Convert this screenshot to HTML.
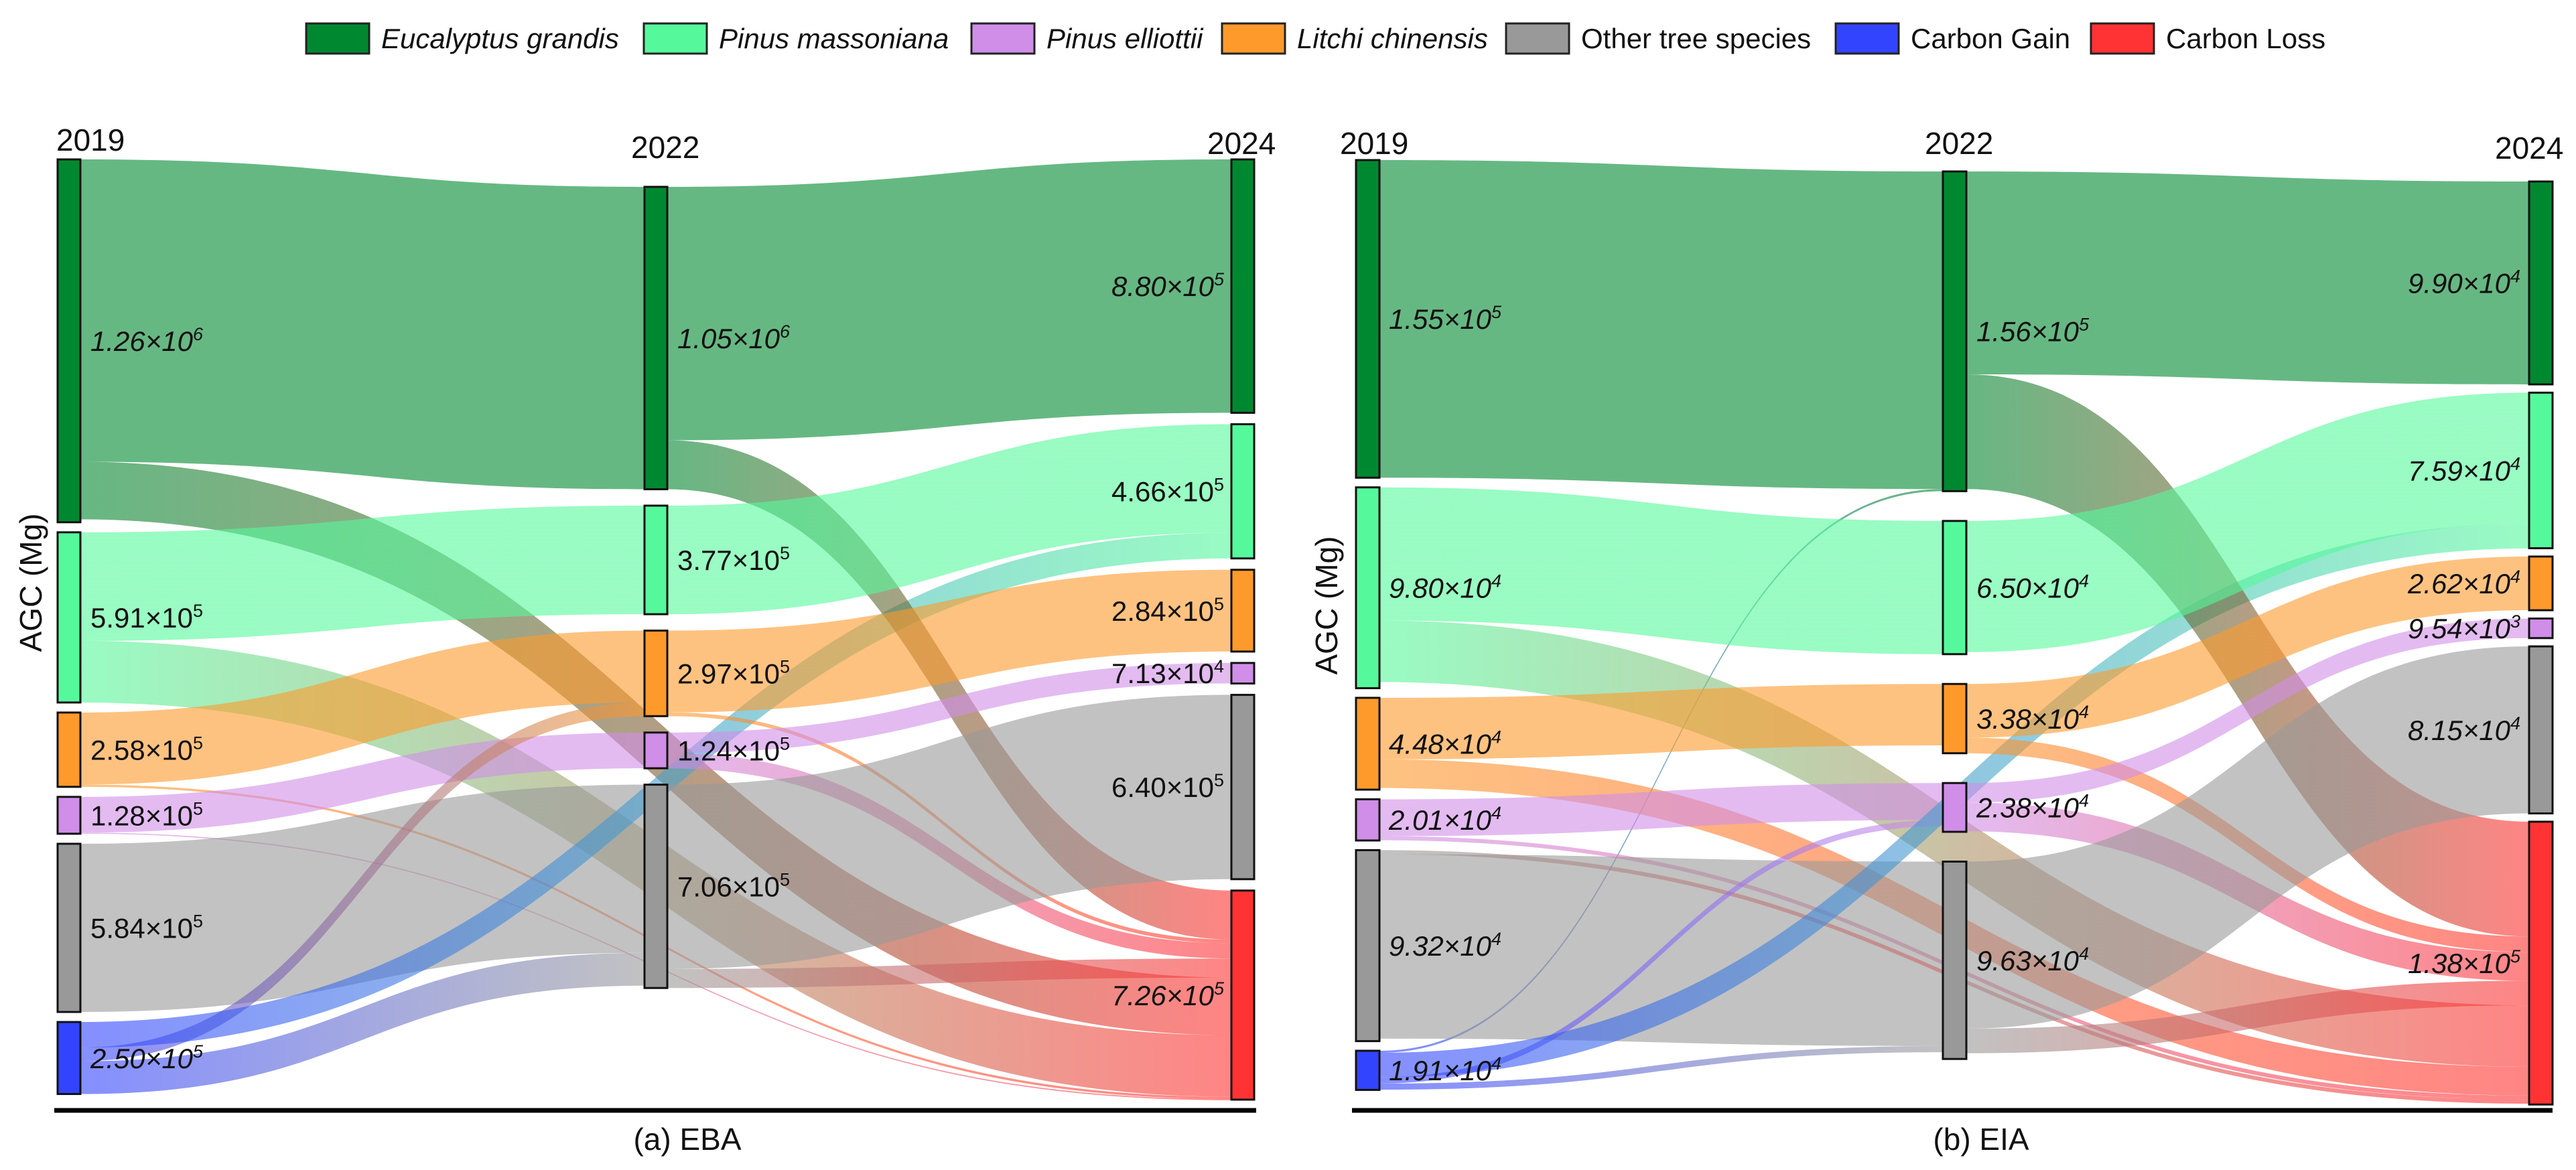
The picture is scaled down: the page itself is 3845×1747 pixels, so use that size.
<!DOCTYPE html>
<html><head><meta charset="utf-8"><style>
html,body{margin:0;padding:0;background:#fff;}
svg{display:block;font-family:"Liberation Sans",Arial,sans-serif;}
</style></head><body>
<svg id="chart" width="3845" height="1747" viewBox="0 0 3845 1747" xmlns="http://www.w3.org/2000/svg">
<defs id="defs"></defs>
<g id="legend"></g>
<g id="panelA"></g>
<g id="panelB"></g>
</svg>
<script>
// ---- data ----
const categories = ["Eucalyptus grandis","Pinus massoniana","Pinus elliottii","Litchi chinensis","Other tree species","Carbon Gain","Carbon Loss"];
const catKeys = ["Eg","PM","El","Li","Ot","Gain","Loss"];
const years = ["2019","2022","2024"];
const col2019 = ["Eg","PM","Li","El","Ot","Gain"];
const col2022 = ["Eg","PM","Li","El","Ot"];
const col2024 = ["Eg","PM","Li","El","Ot","Loss"];
const ebaNodes2019 = [1.26e6, 5.91e5, 2.58e5, 1.28e5, 5.84e5, 2.50e5];
const ebaNodes2022 = [1.05e6, 3.77e5, 2.97e5, 1.24e5, 7.06e5];
const ebaNodes2024 = [8.80e5, 4.66e5, 2.84e5, 7.13e4, 6.40e5, 7.26e5];
const eiaNodes2019 = [1.55e5, 9.80e4, 4.48e4, 2.01e4, 9.32e4, 1.91e4];
const eiaNodes2022 = [1.56e5, 6.50e4, 3.38e4, 2.38e4, 9.63e4];
const eiaNodes2024 = [9.90e4, 7.59e4, 2.62e4, 9.54e3, 8.15e4, 1.38e5];
// links: [sourceCol, sourceKey, targetCol, targetKey, value]
const ebaLinks = [
 [0,"Eg",1,"Eg",1.05e6],[0,"Eg",2,"Loss",2.0e5],
 [0,"PM",1,"PM",3.77e5],[0,"PM",2,"Loss",2.14e5],
 [0,"Li",1,"Li",2.5e5],[0,"Li",2,"Loss",8e3],
 [0,"El",1,"El",1.24e5],[0,"El",2,"Loss",4e3],
 [0,"Ot",1,"Ot",5.84e5],
 [0,"Gain",1,"Li",4.7e4],[0,"Gain",1,"Ot",1.14e5],[0,"Gain",2,"PM",8.9e4],
 [1,"Eg",2,"Eg",8.8e5],[1,"Eg",2,"Loss",1.7e5],
 [1,"PM",2,"PM",3.77e5],
 [1,"Li",2,"Li",2.84e5],[1,"Li",2,"Loss",1.3e4],
 [1,"El",2,"El",7.13e4],[1,"El",2,"Loss",5.3e4],
 [1,"Ot",2,"Ot",6.4e5],[1,"Ot",2,"Loss",6.6e4]
];
const eiaLinks = [
 [0,"Eg",1,"Eg",1.55e5],[0,"Gain",1,"Eg",1e3],
 [0,"PM",1,"PM",6.5e4],[0,"PM",2,"Loss",3.0e4],
 [0,"Li",1,"Li",3.0e4],[0,"Li",2,"Loss",1.4e4],
 [0,"El",1,"El",1.8e4],[0,"El",2,"Loss",2e3],
 [0,"Ot",1,"Ot",9.0e4],[0,"Ot",2,"Loss",2e3],
 [0,"Gain",1,"El",3e3],[0,"Gain",1,"Ot",3e3],[0,"Gain",2,"PM",1.2e4],
 [1,"Eg",2,"Eg",9.9e4],[1,"Eg",2,"Loss",5.6e4],
 [1,"PM",2,"PM",6.4e4],
 [1,"Li",2,"Li",2.62e4],[1,"Li",2,"Loss",7.6e3],
 [1,"El",2,"El",9.54e3],[1,"El",2,"Loss",1.4e4],
 [1,"Ot",2,"Ot",8.15e4],[1,"Ot",2,"Loss",1.2e4]
];
// ---- style ----
const colors = {Eg:"#008830",PM:"#55f99b",El:"#d08ee8",Li:"#fe9a2b",Ot:"#999999",Gain:"#3344ff",Loss:"#ff3333"};
const NS = "http://www.w3.org/2000/svg";
function mk(tag, attrs, parent){const e=document.createElementNS(NS,tag);for(const k in attrs)e.setAttribute(k,attrs[k]);if(parent)parent.appendChild(e);return e;}
const defs = document.getElementById('defs');
let gid = 0;

function fmt(v){
  const e = Math.floor(Math.log10(v)+1e-9);
  const m = (v/Math.pow(10,e)).toFixed(2);
  return [m, e];
}

function drawPanel(g, cfg){
  const cols=[col2019,col2022,col2024];
  const vals=cfg.nodes;
  const nodes=[{},{},{}];
  for(let c=0;c<3;c++){
    let y=cfg.tops[c];
    cols[c].forEach((k,i)=>{
      const h=vals[c][i]*cfg.k;
      nodes[c][k]={x:cfg.xs[c],y:y,h:h,v:vals[c][i],out:[],inn:[]};
      y+=h+cfg.gaps[c];
    });
  }
  const links=cfg.links.map(l=>({s:nodes[l[0]][l[1]],t:nodes[l[2]][l[3]],sk:l[1],tk:l[3],v:l[4]}));
  links.forEach(l=>{l.s.out.push(l);l.t.inn.push(l);});
  for(let c=0;c<3;c++)for(const k in nodes[c]){
    const n=nodes[c][k];
    n.out.sort((a,b)=>a.t.y-b.t.y||a.t.x-b.t.x);
    let y=n.y;n.out.forEach(l=>{l.y0=y;y+=l.v*cfg.k;});
    n.inn.sort((a,b)=>(b.s.x-a.s.x)||(a.s.y-b.s.y));
    y=n.y;n.inn.forEach(l=>{l.y1=y;y+=l.v*cfg.k;});
  }
  const lg=mk('g',{},g);
  
  
  links.forEach(l=>{
    const w=l.v*cfg.k, x0=l.s.x+cfg.bw, x1=l.t.x, xm=(x0+x1)/2;
    const id='gr'+(gid++);
    const gr=mk('linearGradient',{id:id,gradientUnits:'userSpaceOnUse',x1:x0,x2:x1,y1:0,y2:0},defs);
    mk('stop',{offset:'0','stop-color':colors[l.sk]},gr);
    mk('stop',{offset:'1','stop-color':colors[l.tk]},gr);
    const d=`M${x0},${l.y0} C${xm},${l.y0} ${xm},${l.y1} ${x1},${l.y1} L${x1},${l.y1+w} C${xm},${l.y1+w} ${xm},${l.y0+w} ${x0},${l.y0+w} Z`;
    const p=mk('path',{d:d,fill:`url(#${id})`,'fill-opacity':0.6},lg);
    
    
  });
  for(let c=0;c<3;c++)for(const k in nodes[c]){
    const n=nodes[c][k];
    const r=mk('rect',{x:n.x,y:n.y,width:cfg.bw,height:n.h,fill:colors[k],stroke:'#111','stroke-width':3},g);
    
    
    const [m,e]=fmt(n.v);
    const ital=cfg.italic(k);
    const lx = cfg.lx[c];
    const t=mk('text',{x:lx,y:n.y+n.h/2+15,'font-size':42,'text-anchor':c<2?'start':'end','font-style':ital?'italic':'normal',fill:'#111'},g);
    
    
    t.appendChild(document.createTextNode(m+'×10'));
    const s=mk('tspan',{dy:-16,'font-size':27},t);s.textContent=e;
  }
  cfg.yearPos.forEach((p,i)=>{
    const t=mk('text',{x:p[0],y:p[1],'font-size':46,fill:'#111'},g);
    
    
    t.textContent=years[i];
  });
  const ax=mk('line',{x1:cfg.axis[0],x2:cfg.axis[1],y1:1658,y2:1658,stroke:'#000','stroke-width':7},g);
  
  
  const tt=mk('text',{x:cfg.title[0],y:1717,'font-size':46,'text-anchor':'middle',fill:'#111'},g);
  
  
  tt.textContent=cfg.title[1];
  const yl=mk('text',{x:0,y:0,'font-size':46,'text-anchor':'middle',fill:'#111',transform:`translate(${cfg.ylab[0]},${cfg.ylab[1]}) rotate(-90)`},g);
  
  
  yl.textContent='AGC (Mg)';
}

drawPanel(document.getElementById('panelA'),{
  nodes:[ebaNodes2019,ebaNodes2022,ebaNodes2024],links:ebaLinks,k:4.3e-4,
  xs:[86,962,1838],bw:34,tops:[238,279,238],gaps:[15,24.5,17],
  lx:[135,1011,1827],italic:k=>k==="Eg"||k==="Gain"||k==="Loss",
  yearPos:[[84,225],[942,236],[1802,230]],axis:[81,1875],title:[1026,"(a) EBA"],ylab:[62,870]
});
drawPanel(document.getElementById('panelB'),{
  nodes:[eiaNodes2019,eiaNodes2022,eiaNodes2024],links:eiaLinks,k:3.06e-3,
  xs:[2024,2900,3775],bw:35,tops:[239,256,271],gaps:[14.4,44.5,12.4],
  lx:[2073,2950,3762],italic:k=>true,
  yearPos:[[2000,230],[2873,230],[3724,237]],axis:[2018,3810],title:[2957,"(b) EIA"],ylab:[1996,904]
});

const legendX = [[457,569],[961,1073],[1450,1562],[1824,1936],[2248,2360],[2740,2852],[3121,3233]];
const leg=document.getElementById('legend');
categories.forEach((c,i)=>{
  const k=catKeys[i];
  const r=mk('rect',{x:legendX[i][0],y:35,width:94,height:45,fill:colors[k],stroke:'#222','stroke-width':3},leg);
  
  
  const t=mk('text',{x:legendX[i][1],y:72,'font-size':42,fill:'#111','font-style':i<4?'italic':'normal'},leg);
  
  
  t.textContent=c;
});
</script>
</body></html>
